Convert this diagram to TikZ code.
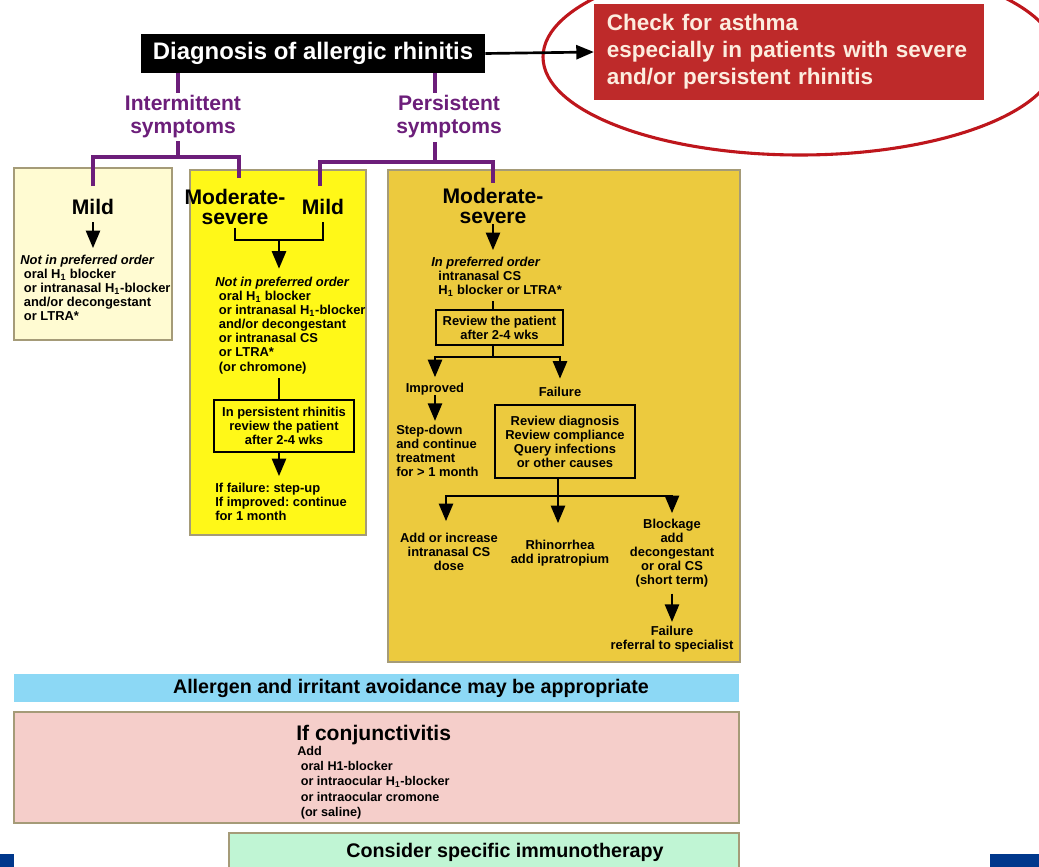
\documentclass[tikz,border=0pt]{standalone}
\usepackage{fontspec}
\setmainfont{Liberation Sans}
\usepackage{tikz}
\usetikzlibrary{arrows,shapes,positioning}
\usepackage{xcolor}
\definecolor{arred}{RGB}{190,42,42}
\definecolor{arcream}{RGB}{252,236,222}
\definecolor{arring}{RGB}{190,22,28}
\definecolor{arpurple}{RGB}{108,30,122}
\definecolor{arpale}{RGB}{255,251,210}
\definecolor{aryellow}{RGB}{255,248,24}
\definecolor{argold}{RGB}{236,202,62}
\definecolor{arcyan}{RGB}{140,216,245}
\definecolor{arpink}{RGB}{245,206,202}
\definecolor{armint}{RGB}{192,245,212}
\definecolor{arnavy}{RGB}{0,56,140}
\definecolor{arframe}{RGB}{165,155,120}
\tikzstyle{arrow} = [line width=1.9pt,->,>=triangle 45]
\tikzstyle{link} = [line width=1.9pt]
\tikzstyle{branch} = [line width=2.3pt, color=arpurple]
\tikzstyle{ring} = [line width=2.2pt, color=arring]
\tikzstyle{panel} = [draw=arframe, line width=0.8pt]
\tikzstyle{diagbox} = [rectangle, fill=black, text=white, font=\bfseries\fontsize{17}{18}\selectfont, minimum width=8.6cm, minimum height=0.975cm, inner sep=0pt]
\tikzstyle{asthmabox} = [rectangle, fill=arred, text=arcream, font=\bfseries\fontsize{16}{19.2}\selectfont, text width=9.1cm, align=left, inner xsep=0.325cm, minimum height=2.4cm]
\tikzstyle{symptom} = [font=\bfseries\fontsize{15}{16.4}\selectfont, text=arpurple, align=center, inner sep=0pt]
\tikzstyle{grade} = [font=\bfseries\fontsize{15}{14.2}\selectfont, align=center, inner sep=0pt]
\tikzstyle{small} = [font=\bfseries\fontsize{9.2}{10}\selectfont, align=left, inner sep=0pt]
\tikzstyle{smallc} = [font=\bfseries\fontsize{9.2}{10}\selectfont, align=center, inner sep=0pt]
\tikzstyle{review} = [rectangle, draw, line width=1.2pt, font=\bfseries\fontsize{9.2}{10}\selectfont, align=center, inner sep=0pt]
\tikzstyle{bandtext} = [font=\bfseries\fontsize{14}{15}\selectfont, inner sep=0pt]
\frenchspacing

\begin{document}
\begin{tikzpicture}[x=0.025cm, y=-0.025cm]
\fill[white] (0,0) rectangle (1039,867);
\useasboundingbox (0,0) rectangle (1039,867);

% treatment panels
\draw[panel, fill=arpale] (14,168) rectangle (172,340);
\draw[panel, fill=aryellow] (190,170) rectangle (366,535);
\draw[panel, fill=argold] (388,170) rectangle (740,662);

% diagnosis and asthma check
\draw[ring] (800,57) ellipse [x radius=257, y radius=98];
\node (diag) [diagbox] at (313,53.5) {Diagnosis of allergic rhinitis};
\node (asthma) [asthmabox] at (789,52) {Check for asthma\\especially in patients with severe\\and/or persistent rhinitis};
\draw[arrow] (diag.east) -- (asthma.west);

% symptom split
\node (intermit) [symptom] at (183,117) {Intermittent\\symptoms};
\node (persist) [symptom] at (449,117) {Persistent\\symptoms};
\coordinate (itop) at (178,93);
\coordinate (ibot) at (178,141);
\coordinate (ijoin) at (178,157);
\coordinate (imild) at (93,186);
\coordinate (imod) at (239,178);
\coordinate (ptop) at (435,93);
\coordinate (pbot) at (435,142);
\coordinate (pjoin) at (435,162);
\coordinate (pmild) at (320,186);
\coordinate (pmod) at (493,183);
\draw[branch] (diag.south -| itop) -- (itop);
\draw[branch] (ibot) -- (ijoin);
\draw[branch] (imild) |- (ijoin) -| (imod);
\draw[branch] (diag.south -| ptop) -- (ptop);
\draw[branch] (pbot) -- (pjoin);
\draw[branch] (pmild) |- (pjoin) -| (pmod);

% intermittent mild
\node (mildL) [grade] at (93,207) {Mild};
\node (txtL) [small, anchor=north west] at (20,255) {\textit{Not in preferred order}\\~oral H\textsubscript{1} blocker\\~or intranasal H\textsubscript{1}-blocker\\~and/or decongestant\\~or LTRA*};
\draw[arrow, shorten <=5pt, shorten >=5pt] (mildL.south) -- (mildL.south |- txtL.north);

% intermittent moderate-severe and persistent mild
\node (modM) [grade] at (235,207) {Moderate-\\severe};
\node (mildM) [grade] at (323,207) {Mild};
\coordinate (mbar) at (279,240);
\draw[link, shorten <=2pt, shorten >=5pt] (modM.south) |- (mbar) -| (mildM.south);
\node (txtM) [small, anchor=north west] at (215,277) {\textit{Not in preferred order}\\~oral H\textsubscript{1} blocker\\~or intranasal H\textsubscript{1}-blocker\\~and/or decongestant\\~or intranasal CS\\~or LTRA*\\~(or chromone)};
\draw[arrow, shorten >=6pt] (mbar) -- (mbar |- txtM.north);
\node (pbox) [review, minimum width=3.5cm, minimum height=1.3cm] at (284,426) {In persistent rhinitis\\review the patient\\after 2-4 wks};
\draw[link, shorten <=3pt] (txtM.south -| mbar) -- (pbox.north -| mbar);
\node (outM) [small, anchor=north west] at (215,483) {If failure: step-up\\If improved: continue\\for 1 month};
\draw[arrow, shorten >=5pt] (pbox.south -| mbar) -- (outM.north -| mbar);

% persistent moderate-severe
\node (modR) [grade] at (493,206) {Moderate-\\severe};
\node (txtR) [small, anchor=north west] at (431,257) {\textit{In preferred order}\\~~intranasal CS\\~~H\textsubscript{1} blocker or LTRA*};
\draw[arrow, shorten >=5pt] (modR.south) -- (modR.south |- txtR.north);
\node (rbox) [review, minimum width=3.175cm, minimum height=0.875cm] at (499.5,327.5) {Review the patient\\after 2-4 wks};
\draw[link, shorten <=3pt] (txtR.south -| modR) -- (rbox.north -| modR);
\coordinate (rsplit) at (493,357);
\draw[link] (rbox.south -| rsplit) -- (rsplit);
\node (impr) [smallc] at (435,389) {Improved};
\node (fail) [smallc] at (560,392) {Failure};
\draw[arrow, shorten >=4pt] (rsplit) -| (impr.north);
\draw[arrow, shorten >=6pt] (rsplit) -| (fail.north);
\node (stepd) [small, anchor=north west] at (396,425) {Step-down\\and continue\\treatment\\for > 1 month};
\draw[arrow, shorten >=3pt] (impr.south) -- (impr.south |- stepd.north);
\node (fbox) [review, minimum width=3.5cm, minimum height=1.825cm] at (565,441.5) {Review diagnosis\\Review compliance\\Query infections\\or other causes};
\coordinate (fsplit) at (558,496);
\coordinate (tipA) at (446,521);
\coordinate (tipB) at (558,523);
\coordinate (tipC) at (672,513);
\draw[link] (fbox.south -| fsplit) -- (fsplit);
\draw[arrow] (fsplit) -| (tipA);
\draw[arrow] (fsplit) -- (tipB);
\draw[arrow] (fsplit) -| (tipC);
\node (addcs) [smallc, anchor=north] at (449,533) {Add or increase\\intranasal CS\\dose};
\node (rhino) [smallc, anchor=north] at (560,540) {Rhinorrhea\\add ipratropium};
\node (block) [smallc, anchor=north] at (672,519) {Blockage\\add\\decongestant\\or oral CS\\(short term)};
\node (refer) [smallc, anchor=north] at (672,626) {Failure\\referral to specialist};
\draw[arrow, shorten <=4pt, shorten >=3pt] (block.south) -- (refer.north);

% measures for all patients
\fill[arcyan] (14,674) rectangle (739,702);
\node (avoid) [bandtext] at (411,688) {Allergen and irritant avoidance may be appropriate};
\draw[panel, fill=arpink] (14,712) rectangle (739,823);
\node (conj) [font=\bfseries\fontsize{15}{16}\selectfont, inner sep=0pt, anchor=north west] at (296,725) {If conjunctivitis};
\node (conjadd) [font=\bfseries\fontsize{9}{10.8}\selectfont, align=left, inner sep=0pt, anchor=north west] at (297,746) {Add\\~oral H1-blocker\\~or intraocular H\textsubscript{1}-blocker\\~or intraocular cromone\\~(or saline)};
\draw[panel, fill=armint] (229,833) rectangle (739,880);
\node (immuno) [bandtext] at (505,852) {Consider specific immunotherapy};
\fill[arnavy] (0,854) rectangle (14,867);
\fill[arnavy] (990,854) rectangle (1039,867);
\end{tikzpicture}
\end{document}
